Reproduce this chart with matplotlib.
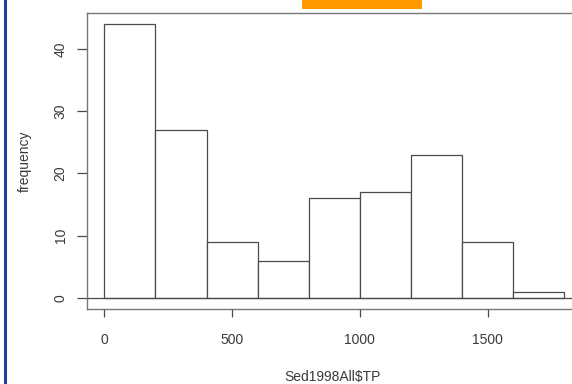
import matplotlib
matplotlib.use("Agg")
import matplotlib.pyplot as plt
from matplotlib.patches import Rectangle
from matplotlib.lines import Line2D

# Histogram of total phosphorus (bin edges and counts)
bin_edges = [0, 200, 400, 600, 800, 1000, 1200, 1400, 1600, 1800]
counts = [44, 27, 9, 6, 16, 17, 23, 9, 1]
x_ticks = [0, 500, 1000, 1500]
y_ticks = [0, 10, 20, 30, 40]

plt.rcParams["font.family"] = ["Liberation Sans", "DejaVu Sans"]

W, H = 572, 384
fig = plt.figure(figsize=(W / 100, H / 100), dpi=100)
fig.patch.set_facecolor("white")

line_col = "#4a4a4a"
text_col = "#3a3a3a"

ax = fig.add_axes([87 / W, (H - 309) / H, (579 - 87) / W, (309 - 13) / H])
ax.set_facecolor("white")
widths = [b - a for a, b in zip(bin_edges[:-1], bin_edges[1:])]
ax.bar(bin_edges[:-1], counts, width=widths, align="edge",
       facecolor="white", edgecolor=line_col, linewidth=0.9)
ax.axhline(0, color=line_col, linewidth=0.9)

ax.set_xlim(-68, 1858)
ax.set_ylim(-1.76, 45.76)
ax.set_xticks(x_ticks)
ax.set_yticks(y_ticks)
ax.tick_params(direction="out", length=6, width=0.9, color=line_col,
               labelcolor=text_col, labelsize=10, pad=11.5)
ax.tick_params(axis="y", labelrotation=90, length=7, pad=7)
for lab in ax.get_yticklabels():
    lab.set_va("center")
for s in ax.spines.values():
    s.set_color("#777777")
    s.set_linewidth(1.0)

ax.set_xlabel("Sed1998All$TP", color=text_col, fontsize=10, labelpad=16)
ax.set_ylabel("frequency", color=text_col, fontsize=10, labelpad=16)

# Decorations around the plot: blue frame edge and orange tab
fig.add_artist(Line2D([5 / W, 5 / W], [0, 1], color="#1f3f9f", linewidth=2.2,
                      transform=fig.transFigure))
fig.add_artist(Rectangle((302 / W, (H - 9) / H), 120 / W, 9 / H,
                         facecolor="#ff9900", edgecolor="none",
                         transform=fig.transFigure))

fig.savefig("out.png", dpi=100, facecolor="white")
